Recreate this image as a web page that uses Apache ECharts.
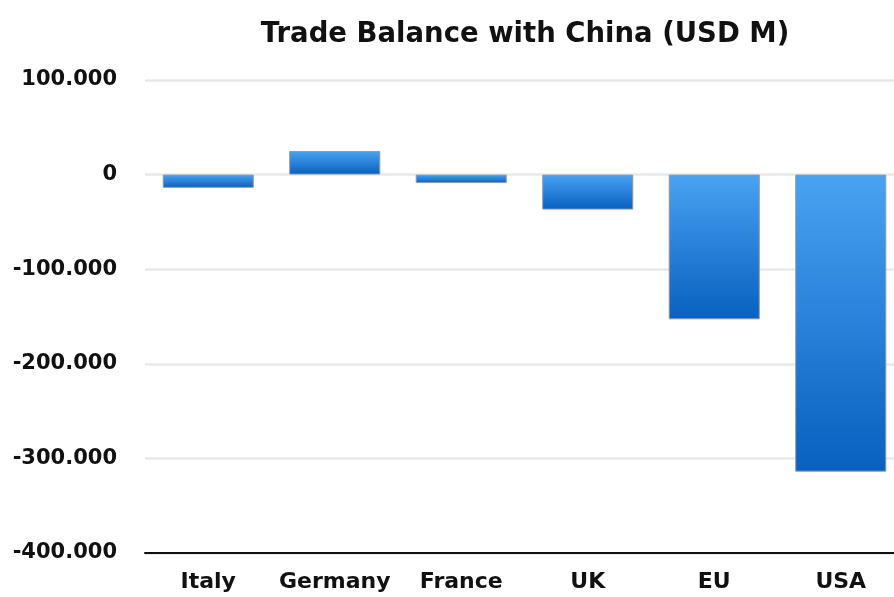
<!DOCTYPE html>
<html>
<head>
<meta charset="utf-8">
<script src="https://cdn.jsdelivr.net/npm/echarts@6/dist/echarts.min.js"></script>
<style>
  html, body { margin: 0; padding: 0; background: #fff; }
  #chart { width: 894px; height: 597px; }
</style>
</head>
<body>
<div id="chart"></div>
<script>
// Trade balance with China, USD millions
const countries = ['Italy', 'Germany', 'France', 'UK', 'EU', 'USA'];
const balances = [-14000, 25000, -9000, -37000, -153000, -314000];
const yTicks = { min: -400000, max: 100000, step: 100000 };

// 100000 -> "100.000"
function dotThousands(v) {
  const s = Math.abs(v).toString().replace(/\B(?=(\d{3})+(?!\d))/g, '.');
  return (v < 0 ? '-' : '') + s;
}

const FONT = 'DejaVu Sans';

const chart = echarts.init(document.getElementById('chart'));
chart.setOption({
  animation: false,
  backgroundColor: '#ffffff',
  title: {
    text: 'Trade Balance with China (USD M)',
    left: 520,
    textAlign: 'center',
    top: 16,
    textStyle: {
      fontFamily: FONT,
      fontWeight: 'bold',
      fontSize: 27.5,
      color: '#111'
    }
  },
  grid: { left: 145, right: -10, top: 80, bottom: 44, outerBoundsMode: 'none' },
  xAxis: {
    type: 'category',
    data: countries,
    axisLine: { show: true, onZero: false, lineStyle: { color: '#111', width: 2 } },
    axisTick: { show: false },
    axisLabel: {
      interval: 0,
      hideOverlap: false,
      fontFamily: FONT,
      fontWeight: 'bold',
      fontSize: 22,
      color: '#111',
      margin: 18
    }
  },
  yAxis: {
    type: 'value',
    min: yTicks.min,
    max: yTicks.max,
    interval: yTicks.step,
    axisLine: { show: false },
    axisTick: { show: false },
    splitLine: {
      show: true,
      lineStyle: { color: '#e8e8e8', width: 2.5 }
    },
    axisLabel: {
      fontFamily: FONT,
      fontWeight: 'bold',
      fontSize: 21,
      color: '#111',
      margin: 28,
      formatter: dotThousands
    }
  },
  series: [{
    type: 'bar',
    data: balances,
    barCategoryGap: '28%',
    itemStyle: {
      color: {
        type: 'linear', x: 0, y: 0, x2: 0, y2: 1,
        colorStops: [
          { offset: 0, color: '#4aa2f2' },
          { offset: 1, color: '#0860c0' }
        ]
      },
      borderColor: '#8f9aa6',
      borderWidth: 1
    }
  }]
});
</script>
</body>
</html>
